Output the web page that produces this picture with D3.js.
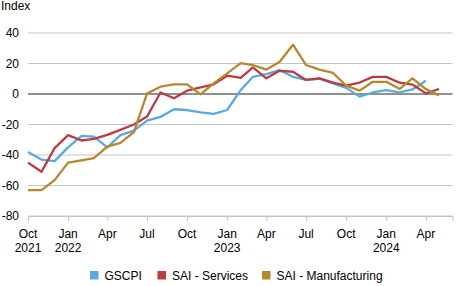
<!DOCTYPE html>
<html>
<head>
<meta charset="utf-8">
<script src="https://cdn.jsdelivr.net/npm/d3@7"></script>
<style>
  body { margin: 0; background: #fff; }
  text { font-family: "Liberation Sans", Arial, sans-serif; fill: #000; }
</style>
</head>
<body>
<div id="chart"></div>
<script>
// monthly observations, Oct 2021 onwards
var startMonth = new Date(2021, 9, 1);
var gscpi = [-38, -43, -44, -35, -27.5, -28, -35, -27, -24, -17.5, -15, -10, -10.5, -12, -13, -10.5,
    2.5, 11.3, 13, 15.7, 11.3, 9.2, 10, 7, 4, -1.7, 1, 2.6, 1, 3, 8.7];
var services = [-45, -51, -35.5, -27, -30.5, -29.4, -26.8, -23.5, -20, -14.8, 1, -2.8, 2.2, 4.4, 6.3, 12,
    10.5, 17.4, 10.3, 15.2, 14.6, 9.2, 10.3, 7.4, 5.5, 7.5, 11.2, 11.2, 7.4, 6.2, 0.4, 3.3];
var manufacturing = [-63, -63, -56.5, -45, -43.5, -42, -34.5, -32, -25, 0.3, 4.8, 6.3, 6.3, -0.2, 7, 13.5,
    20.3, 19, 16, 21, 32.3, 19, 16, 13.8, 5.5, 2.2, 8, 8, 3.3, 10.3, 3.2, -0.9];

var seriesNames = ['GSCPI', 'SAI - Services', 'SAI - Manufacturing'];
var seriesColors = ['#5aaae0', '#b83c40', '#b8862f'];
var yTicks = [40, 20, 0, -20, -40, -60, -80];

var svgWidth = 460;
var svgHeight = 286;
var margin = { top: 33, right: 8, bottom: 70, left: 28 };
var chartWidth = svgWidth - margin.left - margin.right;
var chartHeight = 216 - margin.top;

var svg = d3.select('#chart')
    .append('svg')
    .attr('width', svgWidth)
    .attr('height', svgHeight);

var chartGroup = svg.append('g')
    .attr('transform', `translate(${margin.left}, ${margin.top})`);

var monthOf = i => d3.timeMonth.offset(startMonth, i);

var xScale = d3.scaleTime()
    .domain([startMonth, new Date(2024, 5, 1)])
    .range([0, 424.5]);

var yScale = d3.scaleLinear()
    .domain([-80, 40])
    .range([chartHeight, 0]);

// gridlines
chartGroup.selectAll('.grid')
    .data(yTicks.filter(v => v !== 0))
    .enter()
    .append('line')
    .attr('x1', 0)
    .attr('x2', 424.5)
    .attr('y1', d => yScale(d))
    .attr('y2', d => yScale(d))
    .attr('stroke', '#c4c4c4')
    .attr('stroke-width', 1);

// y labels
chartGroup.selectAll('.ylab')
    .data(yTicks)
    .enter()
    .append('text')
    .attr('x', -9)
    .attr('y', d => yScale(d))
    .attr('dy', '0.36em')
    .attr('text-anchor', 'end')
    .style('font-size', '12px')
    .text(d => d);

svg.append('text')
    .attr('x', 1)
    .attr('y', 10)
    .style('font-size', '12px')
    .text('Index');

// x axis ticks
var tickDates = d3.timeMonth.every(3).range(startMonth, new Date(2024, 6, 1));
var bottomAxis = d3.axisBottom(xScale)
    .tickValues(tickDates)
    .tickSize(5)
    .tickFormat('');
var xAxis = chartGroup.append('g')
    .attr('transform', `translate(0, ${chartHeight})`)
    .call(bottomAxis);
xAxis.select('.domain').attr('stroke', '#c4c4c4');
xAxis.selectAll('.tick line').attr('stroke', '#c4c4c4');

var labelDates = tickDates.filter(d => d < new Date(2024, 5, 1));
var xLabels = chartGroup.selectAll('.xlab')
    .data(labelDates)
    .enter()
    .append('text')
    .attr('text-anchor', 'middle')
    .attr('x', d => xScale(d))
    .attr('y', chartHeight + 22)
    .style('font-size', '12px');
xLabels.append('tspan')
    .attr('x', d => xScale(d))
    .text(d => d3.timeFormat('%b')(d));
xLabels.filter(d => d.getMonth() === 0 || d.getTime() === startMonth.getTime())
    .append('tspan')
    .attr('x', d => xScale(d))
    .attr('dy', 14)
    .text(d => d.getFullYear());

// zero line
chartGroup.append('line')
    .attr('x1', 0)
    .attr('x2', 424.5)
    .attr('y1', yScale(0))
    .attr('y2', yScale(0))
    .attr('stroke', '#222')
    .attr('stroke-width', 1.2);

// lines
var line = d3.line()
    .x((d, i) => xScale(monthOf(i)))
    .y(d => yScale(d));

[gscpi, services, manufacturing].forEach((s, k) => {
    chartGroup.append('path')
        .datum(s)
        .attr('fill', 'none')
        .attr('stroke', seriesColors[k])
        .attr('stroke-width', 2.3)
        .attr('stroke-linejoin', 'round')
        .attr('d', line);
});

// legend
var legendX = [90, 157.5, 262];
var legend = svg.selectAll('.legend')
    .data(seriesNames)
    .enter()
    .append('g')
    .attr('transform', (d, i) => `translate(${legendX[i]}, 271)`);
legend.append('rect')
    .attr('width', 8.5)
    .attr('height', 8.5)
    .attr('fill', (d, i) => seriesColors[i]);
legend.append('text')
    .attr('x', 14.5)
    .attr('y', 4.5)
    .attr('dy', '0.36em')
    .style('font-size', '12px')
    .text(d => d);
</script>
</body>
</html>
